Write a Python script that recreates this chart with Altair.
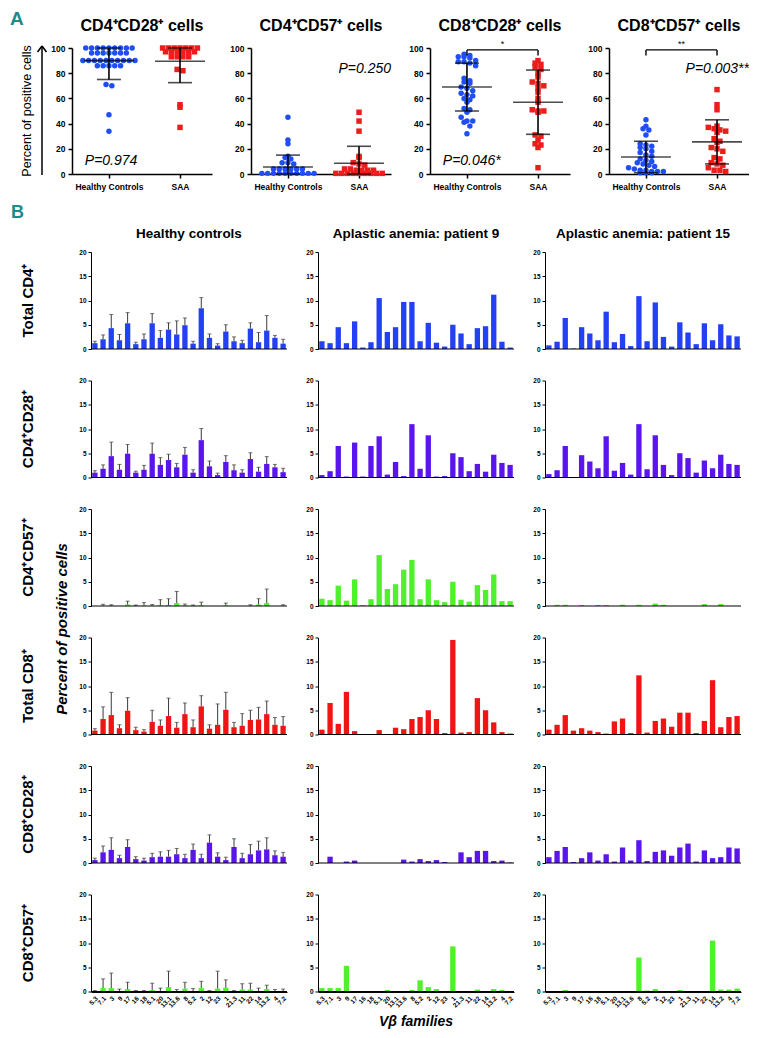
import altair as alt
import pandas as pd

# ---------------- Panel A data ----------------
A_PANELS = ["CD4⁺CD28⁺ cells", "CD4⁺CD57⁺ cells", "CD8⁺CD28⁺ cells", "CD8⁺CD57⁺ cells"]
A_GROUPS = ["Healthy Controls", "SAA"]

cd4cd28_hc = [100, 100, 100, 100, 100, 100, 100, 100, 100, 96, 96, 96, 96, 96, 96, 96,
              90, 90, 90, 90, 90, 90, 90, 90, 90, 90, 86, 86, 86, 86, 86, 71, 70, 47, 34]
cd4cd28_saa = [100, 100, 100, 100, 100, 100, 100, 97, 97, 97, 97, 97, 97,
               93, 93, 93, 93, 83, 82, 55, 53, 37]
cd4cd57_hc = [45, 27, 24, 14, 13, 12, 9, 9, 8, 4, 4, 4, 4, 4, 4,
              0.5, 0.5, 0.5, 0.5, 0.5, 0.5, 0.5, 0.5, 0.5, 0.5]
cd4cd57_saa = [49, 42, 34, 14, 13, 9, 8, 7, 4, 4, 3, 3, 3, 3,
               0.5, 0.5, 0.5, 0.5, 0.5, 0.5, 0.5, 0.5, 0.5]
cd8cd28_hc = [95, 94, 93, 93, 92, 90, 89, 89, 88, 86, 76, 74, 73, 72, 69, 68, 66, 64, 63, 62,
              60, 59, 57, 52, 51, 49, 45, 42, 42, 41, 38, 32]
cd8cd28_saa = [90, 88, 87, 85, 83, 80, 77, 73, 72, 70, 68, 65, 60, 57, 51, 50, 50, 49, 31, 30,
               27, 24, 23, 21, 5]
cd8cd57_hc = [43, 38, 36, 35, 31, 24, 23, 22, 21, 20, 18, 17, 15, 14, 12, 11, 10, 9, 8, 7, 6, 5,
              4, 3, 3, 2, 2, 2, 1, 1, 1]
cd8cd57_saa = [67, 55, 51, 38, 37, 36, 35, 34, 33, 28, 26, 25, 21, 20, 18, 13, 12, 9, 8, 7, 5, 3, 3, 2]

A_VALUES_HC = [cd4cd28_hc, cd4cd57_hc, cd8cd28_hc, cd8cd57_hc]
A_VALUES_SAA = [cd4cd28_saa, cd4cd57_saa, cd8cd28_saa, cd8cd57_saa]
A_MEAN_HC = [90, 5.5, 69, 13.5]
A_SD_HC = [15, 9.5, 19, 12.5]
A_MEAN_SAA = [89.5, 8.5, 57, 25.5]
A_SD_SAA = [17, 13.5, 25.5, 17.5]
A_P_TEXT = ["P=0.974", "P=0.250", "P=0.046*", "P=0.003**"]
A_P_SIDE = ["left", "right", "left", "right"]
A_P_Y = [10, 83, 10, 83]
A_SIG = ["", "", "*", "**"]

# ---------------- Panel B data ----------------
FAMILIES = ["5.3", "7.1", "3", "9", "17", "16", "18", "5.1", "20", "13.1", "13.6", "8",
            "5.2", "2", "12", "23", "1", "21.3", "11", "22", "14", "13.2", "4", "7.2"]
B_ROWS = ["Total CD4⁺", "CD4⁺CD28⁺", "CD4⁺CD57⁺", "Total CD8⁺", "CD8⁺CD28⁺", "CD8⁺CD57⁺"]
B_COLS = ["Healthy controls", "Aplastic anemia: patient 9", "Aplastic anemia: patient 15"]
B_COLORS = ["#2340f2", "#5a14ec", "#4ff02c", "#f01414", "#5a14ec", "#4ff02c"]

hc_cd4 = [1.2, 2.0, 4.3, 1.8, 5.3, 1.0, 2.0, 5.3, 2.3, 4.0, 3.0, 4.9, 1.1, 8.4, 2.3, 0.7, 3.6, 1.6, 1.2, 4.2, 1.4, 3.8, 2.3, 1.1]
hc_cd4_err = [1.6, 2.9, 7.1, 3.0, 7.5, 1.4, 3.1, 7.3, 3.8, 5.4, 5.8, 6.4, 1.6, 10.6, 3.1, 1.1, 5.0, 2.5, 1.8, 5.4, 3.4, 6.9, 2.8, 2.0]
p9_cd4 = [1.6, 1.2, 4.5, 1.2, 5.7, 0.3, 1.4, 10.5, 3.5, 4.5, 9.7, 9.7, 1.6, 5.4, 1.3, 0.5, 5.0, 3.2, 1.0, 4.3, 4.7, 11.2, 1.5, 0.3]
p15_cd4 = [0.75, 1.5, 6.4, 0.1, 4.5, 3.2, 1.8, 7.7, 1.4, 3.1, 0.6, 10.9, 1.6, 9.6, 2.5, 0.5, 5.5, 3.4, 1.0, 5.3, 1.8, 5.1, 2.8, 2.6]

hc_cd4cd28 = [1.0, 1.8, 4.4, 1.6, 4.9, 1.0, 1.6, 4.9, 2.6, 3.6, 2.1, 4.7, 1.0, 7.7, 2.3, 0.5, 3.2, 1.5, 1.0, 3.8, 1.2, 2.8, 2.1, 1.1]
hc_cd4cd28_err = [1.4, 2.6, 7.3, 2.7, 6.8, 1.3, 2.5, 7.1, 4.1, 4.8, 2.9, 6.2, 1.6, 10.1, 3.4, 0.9, 4.5, 2.6, 1.6, 5.1, 2.1, 4.3, 2.7, 1.9]
p9_cd4cd28 = [0.5, 1.3, 6.5, 0.2, 7.2, 0.2, 6.5, 8.5, 0.6, 3.2, 0.3, 11.0, 1.8, 8.7, 0.2, 0.3, 5.0, 4.2, 1.3, 2.8, 1.2, 4.7, 3.0, 2.6]
p15_cd4cd28 = [0.7, 1.5, 6.5, 0.1, 4.6, 3.3, 1.9, 8.5, 1.4, 3.0, 0.6, 11.0, 1.7, 8.7, 2.6, 0.5, 5.0, 4.0, 1.0, 3.5, 1.9, 4.7, 2.8, 2.6]

hc_cd4cd57 = [0.0, 0.05, 0.05, 0.0, 0.3, 0.05, 0.1, 0.05, 0.15, 0.2, 0.6, 0.1, 0.05, 0.15, 0.0, 0.0, 0.1, 0.0, 0.0, 0.05, 0.3, 0.6, 0.0, 0.05]
hc_cd4cd57_err = [None, 0.35, 0.25, None, 1.0, 0.2, 0.7, 0.3, 1.3, 1.5, 3.0, 0.4, 0.2, 0.8, None, None, 0.6, None, None, 0.25, 1.5, 3.5, None, 0.25]
p9_cd4cd57 = [1.5, 1.2, 4.2, 1.1, 5.5, 0.2, 1.4, 10.5, 3.5, 4.5, 7.5, 9.5, 1.4, 5.5, 1.2, 0.8, 5.0, 1.3, 0.9, 4.3, 3.3, 6.5, 1.0, 1.0]
p15_cd4cd57 = [0.0, 0.25, 0.25, 0.0, 0.2, 0.0, 0.2, 0.2, 0.0, 0.25, 0.0, 0.25, 0.0, 0.5, 0.25, 0.0, 0.0, 0.0, 0.0, 0.4, 0.0, 0.4, 0.0, 0.0]

hc_cd8 = [0.8, 3.2, 4.0, 1.3, 4.9, 0.9, 0.6, 2.6, 1.8, 3.8, 1.4, 4.2, 1.5, 5.8, 1.2, 2.0, 5.1, 1.5, 1.8, 3.0, 3.1, 4.2, 2.0, 1.8]
hc_cd8_err = [1.2, 5.7, 8.7, 2.0, 7.6, 1.5, 1.0, 5.0, 3.0, 7.5, 2.5, 6.5, 3.0, 8.0, 2.0, 6.3, 8.7, 2.5, 4.3, 5.0, 5.6, 6.9, 3.5, 3.7]
p9_cd8 = [1.0, 6.5, 2.2, 8.8, 0.7, 0.0, 0.0, 0.9, 0.0, 1.4, 1.1, 3.2, 3.6, 5.0, 3.2, 0.3, 19.5, 0.4, 0.5, 7.5, 5.0, 2.5, 0.5, 0.2]
p15_cd8 = [1.0, 2.0, 4.0, 0.8, 1.3, 0.8, 0.5, 0.2, 2.7, 3.3, 0.3, 12.2, 0.4, 2.8, 3.3, 1.6, 4.5, 4.5, 0.3, 2.8, 11.2, 1.5, 3.6, 3.8]

hc_cd8cd28 = [0.6, 2.2, 2.7, 1.0, 3.3, 0.8, 0.5, 1.2, 1.3, 1.3, 1.8, 1.0, 2.7, 1.0, 4.2, 1.3, 0.6, 3.3, 1.0, 1.8, 2.6, 2.8, 1.6, 1.3]
hc_cd8cd28_err = [1.0, 3.5, 5.2, 1.6, 4.8, 1.3, 1.0, 2.0, 2.3, 2.6, 3.0, 1.8, 3.9, 1.8, 5.8, 2.1, 1.2, 5.0, 2.0, 3.8, 4.5, 5.2, 2.5, 2.2]
p9_cd8cd28 = [0.0, 1.3, 0.0, 0.3, 0.5, 0.0, 0.0, 0.0, 0.0, 0.0, 0.7, 0.3, 0.8, 0.4, 0.6, 0.2, 0.0, 2.2, 1.2, 2.5, 2.5, 0.4, 0.5, 0.1]
p15_cd8cd28 = [1.2, 2.5, 3.3, 0.2, 1.0, 2.2, 0.5, 1.8, 0.3, 3.2, 0.5, 4.7, 0.4, 2.3, 2.6, 1.5, 3.2, 4.0, 0.3, 2.6, 1.0, 1.2, 3.2, 3.0]

hc_cd8cd57 = [0.1, 0.7, 0.7, 0.1, 0.5, 0.1, 0.1, 0.3, 0.1, 0.9, 0.1, 0.6, 0.1, 0.7, 0.1, 0.6, 0.8, 0.1, 0.4, 0.4, 0.1, 0.5, 0.1, 0.1]
hc_cd8cd57_err = [0.2, 2.6, 3.8, 0.5, 1.9, 0.2, 0.2, 1.7, 0.7, 4.2, 0.4, 1.9, 0.6, 2.1, 0.2, 4.2, 2.4, 0.2, 1.6, 1.7, 0.7, 1.3, 0.4, 0.5]
p9_cd8cd57 = [0.7, 0.7, 0.7, 5.3, 0.0, 0.0, 0.0, 0.0, 0.3, 0.0, 0.1, 0.3, 2.3, 0.9, 0.5, 0.0, 9.3, 0.0, 0.0, 0.4, 0.0, 0.5, 0.3, 0.0]
p15_cd8cd57 = [0.05, 0.1, 0.3, 0.0, 0.0, 0.1, 0.1, 0.1, 0.1, 0.0, 0.0, 7.0, 0.2, 0.5, 0.0, 0.0, 0.3, 0.1, 0.0, 0.0, 10.5, 0.4, 0.4, 0.6]

B_VALUES = [
    [hc_cd4, p9_cd4, p15_cd4],
    [hc_cd4cd28, p9_cd4cd28, p15_cd4cd28],
    [hc_cd4cd57, p9_cd4cd57, p15_cd4cd57],
    [hc_cd8, p9_cd8, p15_cd8],
    [hc_cd8cd28, p9_cd8cd28, p15_cd8cd28],
    [hc_cd8cd57, p9_cd8cd57, p15_cd8cd57],
]
B_ERRORS = [hc_cd4_err, hc_cd4cd28_err, hc_cd4cd57_err, hc_cd8_err, hc_cd8cd28_err, hc_cd8cd57_err]

# ---------------- layout constants ----------------
A_W, A_H = 140, 126
X_DOM = [-0.52, 1.45]
B_W, B_H = 196, 97
TEAL = "#1d8a8c"
BLUE_PT, RED_PT = "#1f4ef5", "#ee1c1c"


def column_scatter(vals, ypx, xpx, row_h=5.0, dx=5.8):
    """Prism-style column scatter: points binned into rows, spread side by side."""
    bins = {}
    for i, v in enumerate(vals):
        bins.setdefault(int(round(v * ypx / row_h)), []).append(i)
    offs = [0.0] * len(vals)
    for idx in bins.values():
        n = len(idx)
        for k, i in enumerate(idx):
            offs[i] = (k - (n - 1) / 2.0) * dx / xpx
    return offs


ypx = A_H / 100.0
xpx = A_W / (X_DOM[1] - X_DOM[0])

XS = alt.Scale(domain=X_DOM, nice=False, zero=False)
YS = alt.Scale(domain=[0, 100], nice=False, clamp=True)
XAX = alt.Axis(values=[0, 1], labelExpr="datum.value == 0 ? 'Healthy Controls' : 'SAA'",
               title=None, labelFontSize=8.5, labelFontWeight="bold", tickSize=4,
               labelPadding=4, domainWidth=1.5, tickWidth=1.5)
YAX = alt.Axis(values=[0, 20, 40, 60, 80, 100], title=None, labelFontSize=8.5,
               labelFontWeight="bold", tickSize=4, labelPadding=3, domainWidth=1.5, tickWidth=1.5)


def xa(f):
    return alt.X(f"{f}:Q", scale=XS, axis=XAX)


def ya(f):
    return alt.Y(f"{f}:Q", scale=YS, axis=YAX)


def fk(k):
    return f"datum.kind == '{k}'"


def panel_a(p):
    rows = []
    for g, vals in enumerate([A_VALUES_HC[p], A_VALUES_SAA[p]]):
        offs = column_scatter(vals, ypx, xpx)
        for v, o in zip(vals, offs):
            rows.append(dict(kind="pt%d" % g, val=v, xpos=g + o))
        m = [A_MEAN_HC, A_MEAN_SAA][g][p]
        s = [A_SD_HC, A_SD_SAA][g][p]
        rows.append(dict(kind="stat", grp=g, mean=m, lo=m - s, hi=m + s))
    tx = -0.34 if A_P_SIDE[p] == "left" else 1.45
    rows.append(dict(kind="ptext", tx=tx, ty=A_P_Y[p], label=A_P_TEXT[p]))
    rows.append(dict(kind="title", label=A_PANELS[p]))
    if A_SIG[p]:
        rows.append(dict(kind="br", bx=0, bx2=1, by=98.5, label=A_SIG[p]))
        rows.append(dict(kind="bre", bx=0, by=98.5, by2=94))
        rows.append(dict(kind="bre", bx=1, by=98.5, by2=94))
    df = pd.DataFrame(rows)

    layers = [
        alt.Chart().mark_point(filled=True, size=30, opacity=1, color=BLUE_PT, shape="circle").encode(
            x=xa("xpos"), y=ya("val")).transform_filter(fk("pt0")),
        alt.Chart().mark_point(filled=True, size=30, opacity=1, color=RED_PT, shape="square").encode(
            x=xa("xpos"), y=ya("val")).transform_filter(fk("pt1")),
        alt.Chart().mark_tick(orient="horizontal", size=50, thickness=1.6, color="black").encode(
            x=xa("grp"), y=ya("mean")).transform_filter(fk("stat")),
        alt.Chart().mark_rule(color="black", strokeWidth=1.6).encode(
            x=xa("grp"), y=ya("lo"), y2="hi:Q").transform_filter(fk("stat")),
        alt.Chart().mark_tick(orient="horizontal", size=24, thickness=1.6, color="black").encode(
            x=xa("grp"), y=ya("lo")).transform_filter(fk("stat")),
        alt.Chart().mark_tick(orient="horizontal", size=24, thickness=1.6, color="black").encode(
            x=xa("grp"), y=ya("hi")).transform_filter(fk("stat")),
        alt.Chart().mark_text(align=A_P_SIDE[p], baseline="middle", fontSize=14, fontStyle="italic").encode(
            x=xa("tx"), y=ya("ty"), text="label:N").transform_filter(fk("ptext")),
        alt.Chart().mark_text(align="center", baseline="alphabetic", fontSize=16, fontWeight="bold").encode(
            x=alt.value(A_W / 2), y=alt.value(-17), text="label:N").transform_filter(fk("title")),
    ]
    if A_SIG[p]:
        layers += [
            alt.Chart().mark_rule(color="black", strokeWidth=1.4).encode(
                x=xa("bx"), x2="bx2:Q", y=ya("by")).transform_filter(fk("br")),
            alt.Chart().mark_rule(color="black", strokeWidth=1.4).encode(
                x=xa("bx"), y=ya("by"), y2="by2:Q").transform_filter(fk("bre")),
            alt.Chart().mark_text(align="center", baseline="bottom", fontSize=9, dy=-1).encode(
                x=xa("mid"), y=ya("by"), text="label:N"
            ).transform_filter(fk("br")).transform_calculate(mid="(datum.bx + datum.bx2) / 2"),
        ]
    if p == 0:
        layers.append(
            alt.Chart().mark_text(text="Percent of positive cells", fontSize=12.5, angle=270,
                                  align="center", baseline="middle").encode(
                x=alt.value(-45), y=alt.value(63)).transform_filter(fk("title")))
    return alt.layer(*layers, data=df).properties(width=A_W, height=A_H)


# narrow strip left of panel A: letter and arrow (no rotated text here)
ann = alt.layer(
    alt.Chart().mark_text(text="A", fontSize=19, fontWeight="bold", color=TEAL,
                          align="left", baseline="alphabetic").encode(x=alt.value(0), y=alt.value(-23)),
    alt.Chart().mark_rule(color="black", strokeWidth=1.5).encode(
        x=alt.value(32), y=alt.value(-2), y2=alt.value(127)),
    alt.Chart().mark_rule(color="black", strokeWidth=1.5).encode(
        x=alt.value(27.5), x2=alt.value(32), y=alt.value(4), y2=alt.value(-2)),
    alt.Chart().mark_rule(color="black", strokeWidth=1.5).encode(
        x=alt.value(36.5), x2=alt.value(32), y=alt.value(4), y2=alt.value(-2)),
    data=pd.DataFrame({"k": [0]}),
).properties(width=23, height=A_H)

rowA = alt.HConcatChart(hconcat=[ann] + [panel_a(p) for p in range(4)], spacing=39, bounds="flush")

# ---------------- Panel B table ----------------
rowsB = []
for r, sub in enumerate(B_ROWS):
    for c, coh in enumerate(B_COLS):
        vals = B_VALUES[r][c]
        errs = B_ERRORS[r] if c == 0 else [None] * len(FAMILIES)
        for f, v, e in zip(FAMILIES, vals, errs):
            rowsB.append(dict(kind="bar", subset=sub, cohort=coh, fam=f, val=v, err=e))
        rowsB.append(dict(kind="base", subset=sub, cohort=coh, zero=0))
rowsB.append(dict(kind="labB", subset=B_ROWS[0], cohort=B_COLS[0]))
rowsB.append(dict(kind="labP", subset=B_ROWS[2], cohort=B_COLS[0]))
rowsB.append(dict(kind="labV", subset=B_ROWS[5], cohort=B_COLS[1]))
dfB = pd.DataFrame(rowsB)

XB = alt.X("fam:N", sort=FAMILIES, scale=alt.Scale(paddingInner=0.35, paddingOuter=0.15),
           axis=alt.Axis(title=None, labelAngle=315, labelFontSize=6.5, labelFontWeight="bold",
                         ticks=False, labelPadding=3, domainWidth=1))
YBS = alt.Scale(domain=[0, 20], nice=False)
YBAX = alt.Axis(title=None, values=[0, 5, 10, 15, 20], labelFontSize=6.5, labelFontWeight="bold",
                tickSize=3, labelPadding=2, domainWidth=1)


def yb(f):
    return alt.Y(f"{f}:Q", scale=YBS, axis=YBAX)


bars = alt.Chart().mark_bar().encode(
    x=XB, y=yb("val"),
    color=alt.Color("subset:N", scale=alt.Scale(domain=B_ROWS, range=B_COLORS), legend=None),
).transform_filter(fk("bar"))
errbar = alt.Chart().mark_rule(color="#3a3a3a", strokeWidth=1).encode(
    x=XB, y=yb("val"), y2="err:Q").transform_filter("datum.kind == 'bar' && isValid(datum.err)")
errcap = alt.Chart().mark_tick(color="#3a3a3a", size=4, thickness=1).encode(
    x=XB, y=yb("err")).transform_filter("datum.kind == 'bar' && isValid(datum.err)")
baseline = alt.Chart().mark_rule(color="black", strokeWidth=1).encode(
    y=yb("zero")).transform_filter(fk("base"))
lab_B = alt.Chart().mark_text(text="B", fontSize=18, fontWeight="bold", color=TEAL,
                              align="left", baseline="alphabetic").encode(
    x=alt.value(-80), y=alt.value(-34)).transform_filter(fk("labB"))
lab_P = alt.Chart().mark_text(text="Percent of positive cells", fontSize=15, fontWeight="bold",
                              fontStyle="italic", angle=270, align="center", baseline="middle").encode(
    x=alt.value(-29), y=alt.value(120)).transform_filter(fk("labP"))
lab_V = alt.Chart().mark_text(text="Vβ families", fontSize=14, fontWeight="bold",
                              fontStyle="italic", align="center", baseline="middle").encode(
    x=alt.value(B_W / 2), y=alt.value(127)).transform_filter(fk("labV"))

facetB = alt.layer(bars, errbar, errcap, baseline, lab_B, lab_P, lab_V).properties(
    width=B_W, height=B_H
).facet(
    row=alt.Row("subset:N", sort=B_ROWS,
                header=alt.Header(title=None, labelFontSize=15, labelFontWeight="bold",
                                  labelColor="black", labelPadding=40, labelAngle=270)),
    column=alt.Column("cohort:N", sort=B_COLS,
                      header=alt.Header(title=None, labelFontSize=13.5, labelFontWeight="bold",
                                        labelColor="black", labelPadding=12)),
    data=dfB, spacing={"row": 31.5, "column": 31}, bounds="flush",
).resolve_axis(y="independent")

# tiny invisible spacer so panel B's grid starts to the right of the shared origin
spacer = alt.Chart(pd.DataFrame({"k": [0]})).mark_rule(opacity=0, strokeWidth=0.1).encode(
    x=alt.value(0.5), y=alt.value(0), y2=alt.value(1)).properties(width=1, height=1)
rowB = alt.HConcatChart(hconcat=[spacer, facetB], spacing=0)

chart = alt.vconcat(rowA, rowB, spacing=13).properties(
    padding={"left": 2, "top": 2, "right": 0, "bottom": 0}
).configure(font="Liberation Sans").configure_view(stroke=None).configure_axis(
    grid=False, domainColor="black", tickColor="black", labelColor="black"
)

chart.save("out.html", embed_options={"renderer": "svg", "actions": False})
